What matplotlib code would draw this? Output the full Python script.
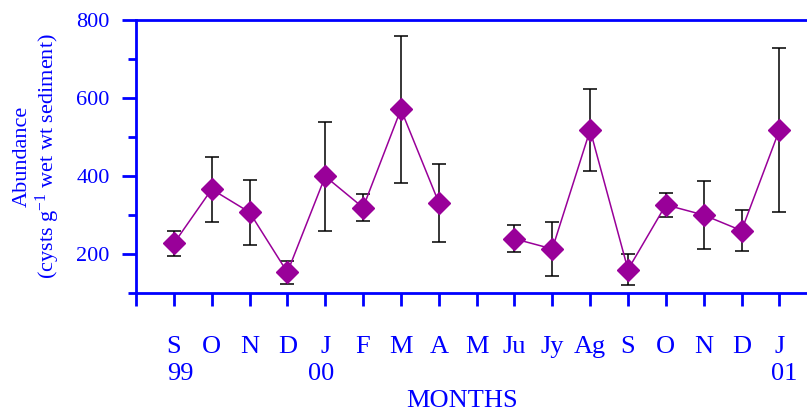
import matplotlib
matplotlib.use("Agg")
import matplotlib.pyplot as plt
import matplotlib.transforms as mtransforms
import numpy as np

months = ["S", "O", "N", "D", "J", "F", "M", "A", "M",
          "Ju", "Jy", "Ag", "S", "O", "N", "D", "J"]
years = ["99", "", "", "", "00", "", "", "", "",
         "", "", "", "", "", "", "", "01"]
abundance = [227, 366, 307, 153, 399, 319, 571, 332, np.nan,
             239, 213, 518, 160, 326, 300, 260, 518]
err = [31, 83, 83, 30, 139, 35, 189, 100, np.nan,
       35, 70, 105, 39, 31, 86, 53, 210]

plt.rcParams['font.family'] = ['Liberation Serif', 'DejaVu Serif']
plt.rcParams['mathtext.fontset'] = 'custom'
plt.rcParams['mathtext.rm'] = 'Liberation Serif'
plt.rcParams['mathtext.it'] = 'Liberation Serif:italic'

blue = '#0000FF'
purple = '#990099'

fig = plt.figure(figsize=(8.07, 4.11), dpi=100)
ax = fig.add_axes([136/807, 1 - 293/411, 1 - 136/807, (293 - 20)/411])

x = np.arange(1, len(months) + 1)
ax.errorbar(x, abundance, yerr=err, fmt='none', ecolor='black',
            elinewidth=1.1, capsize=5, capthick=1.1, zorder=2)
ax.plot(x, abundance, color=purple, lw=1.1, marker='D', ms=11,
        mfc=purple, mec=purple, zorder=3)

ax.set_xlim(0, 17.73)
ax.set_ylim(100, 800)
ax.set_xticks(np.arange(0, len(months) + 1))
ax.set_xticklabels([""] + months, fontsize=19, color=blue)
ax.set_yticks([200, 400, 600, 800])
ax.set_yticks([100, 300, 500, 700], minor=True)
ax.set_yticklabels(["200", "400", "600", "800"], fontsize=16, color=blue)

ax.tick_params(axis='x', direction='out', length=9, width=2, color=blue, pad=22)
ax.tick_params(axis='y', which='major', direction='out', length=10, width=2,
               color=blue, pad=9)
ax.tick_params(axis='y', which='minor', direction='out', length=6, width=2,
               color=blue)

# year labels sit under the month, slightly offset like the original
trans = mtransforms.blended_transform_factory(ax.transData, fig.transFigure)
nudge = {"99": 7, "00": -4, "01": 5}
for xi, yr in zip(x, years):
    if yr:
        t = trans + mtransforms.ScaledTranslation(nudge[yr] / 100, 0,
                                                  fig.dpi_scale_trans)
        ax.text(xi, 1 - 374/411, yr, transform=t, fontsize=19, color=blue,
                ha='center', va='center')

ax.spines['right'].set_visible(False)
for s in ['left', 'top', 'bottom']:
    ax.spines[s].set_color(blue)
    ax.spines[s].set_linewidth(2)

fig.text(462/807, 1 - 401/411, "MONTHS", fontsize=19, color=blue,
         ha='center', va='center')
fig.text(37/807, 1 - 156/411,
         "Abundance\n(cysts g$^{-1}$ wet wt sediment)",
         fontsize=16, color=blue, rotation=90, ha='center', va='center',
         multialignment='center', linespacing=1.1)

fig.savefig("out.png", dpi=100)
